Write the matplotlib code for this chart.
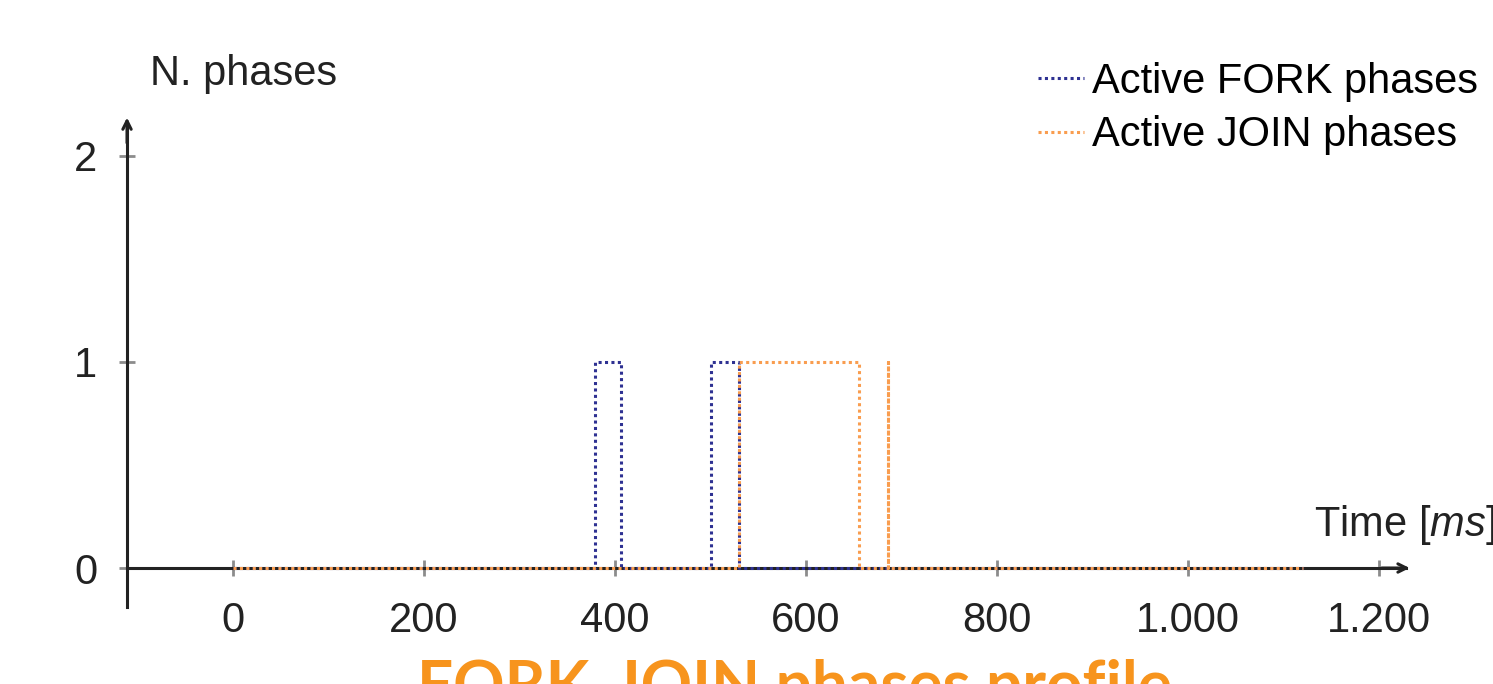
import matplotlib.pyplot as plt
from matplotlib.ticker import FixedLocator

# dati (tempo in ms, numero di fasi attive)
fork_t = [0, 379, 379, 406, 406, 501, 501, 529.5, 529.5, 1120]
fork_n = [0, 0, 1, 1, 0, 0, 1, 1, 0, 0]

join_t = [0, 529.5, 529.5, 656, 656, 685.5, 685.5, 685.5, 1120]
join_n = [0, 0, 1, 1, 0, 0, 1, 0, 0]

x_ticks = [0, 200, 400, 600, 800, 1000, 1200]
x_labels = ['0', '200', '400', '600', '800', '1.000', '1.200']
y_ticks = [0, 1, 2]
y_labels = ['0', '1', '2']

BLU = '#2e3192'
ARANCIO = '#f99d4f'
TITOLO = '#f7941d'
NERO = '#222222'
FS = 30

plt.rcParams['font.family'] = ['Liberation Sans', 'DejaVu Sans']
plt.rcParams['mathtext.fontset'] = 'custom'
plt.rcParams['mathtext.it'] = 'Liberation Sans:italic'
plt.rcParams['mathtext.rm'] = 'Liberation Sans'

fig = plt.figure(figsize=(14.93, 6.84), dpi=100)
ax = fig.add_axes([0, 0, 1, 1])
ax.set_xlim(-244, 1319.4)
ax.set_ylim(-0.563, 2.757)

ax.plot(fork_t, fork_n, color=BLU, lw=2.2, ls=(0, (1, 1.1)), label='Active FORK phases', zorder=3)
ax.plot(join_t, join_n, color=ARANCIO, lw=2.2, ls=(0, (1, 1.1)), label='Active JOIN phases', zorder=4)

# assi "al centro" come in pgfplots
for s in ['top', 'right']:
    ax.spines[s].set_visible(False)
ax.spines['left'].set_position(('data', -111))
ax.spines['bottom'].set_position(('data', 0))
ax.spines['left'].set_bounds(-0.19, 2.16)
ax.spines['bottom'].set_bounds(-111, 1228)
for s in ['left', 'bottom']:
    ax.spines[s].set_linewidth(2.2)
    ax.spines[s].set_color(NERO)
ax.spines['bottom'].set_zorder(2)

ax.annotate('', xy=(1235, 0), xytext=(1200, 0),
            arrowprops=dict(arrowstyle='->, head_length=0.6, head_width=0.3', lw=2.2, color=NERO))
ax.annotate('', xy=(-111, 2.2), xytext=(-111, 2.05),
            arrowprops=dict(arrowstyle='->, head_length=0.6, head_width=0.3', lw=2.2, color=NERO))

ax.xaxis.set_major_locator(FixedLocator(x_ticks))
ax.set_xticklabels(x_labels)
ax.yaxis.set_major_locator(FixedLocator(y_ticks))
ax.set_yticklabels(y_labels)
ax.tick_params(direction='inout', length=11, width=2.0, color='#8c8c8c',
               labelsize=FS, labelcolor=NERO)
ax.tick_params(axis='x', pad=18)
ax.tick_params(axis='y', pad=16)

ax.text(-87, 2.345, 'N. phases', fontsize=FS, color=NERO, ha='left', va='baseline')
ax.text(1132, 0.155, r'Time [$ms$]', fontsize=FS, color=NERO, ha='left', va='baseline')

ax.legend(loc='upper right', bbox_to_anchor=(1478 / 1493, 1 - 62 / 684),
          bbox_transform=fig.transFigure, frameon=False, fontsize=FS,
          handlelength=1.1, handletextpad=0.2, labelspacing=0.32,
          borderpad=0, borderaxespad=0)

fig.text(794 / 1493, 1 - 706 / 684, 'FORK-JOIN phases profile', fontsize=46,
         family=['Lato', 'DejaVu Sans'], fontweight='bold', color=TITOLO,
         ha='center', va='baseline')

fig.savefig('out.png', dpi=100)
